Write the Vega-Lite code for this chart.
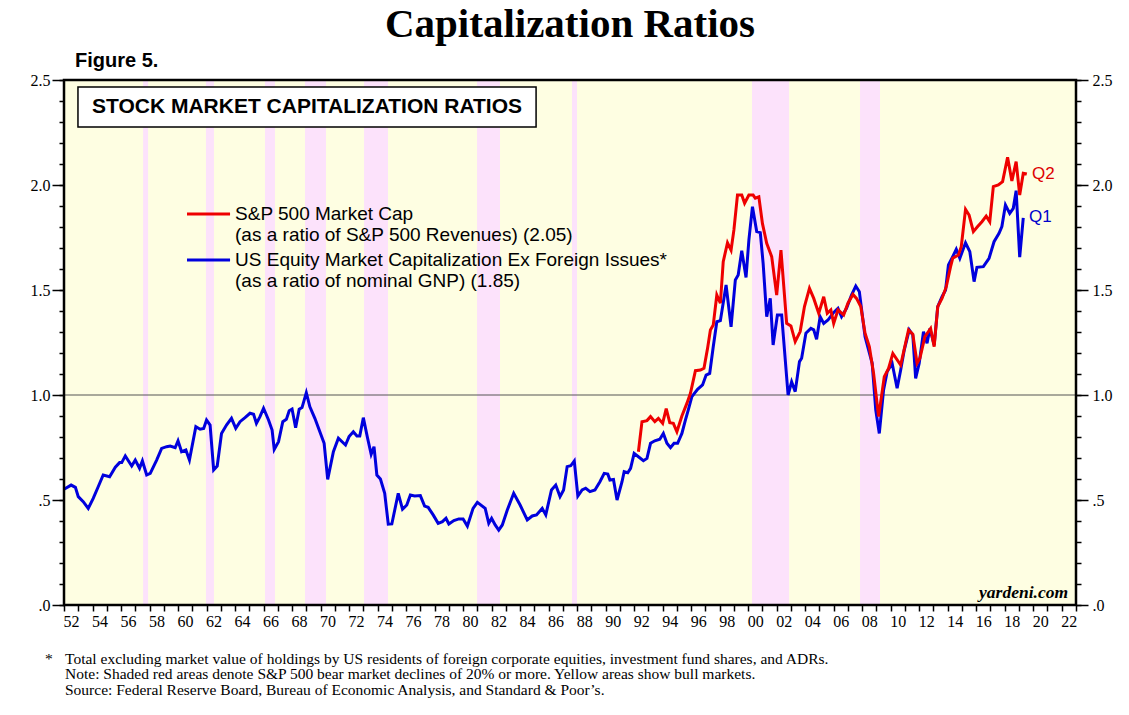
{
  "$schema": "https://vega.github.io/schema/vega-lite/v6.json",
  "width": 1012,
  "height": 525,
  "autosize": "none",
  "padding": {"left": 64, "top": 80, "right": 53, "bottom": 110},
  "background": "#ffffff",
  "config": {
    "view": {"fill": "#fefee2", "stroke": null},
    "text": {"font": "Liberation Sans", "color": "#000000"}
  },
  "datasets": {
    "bears": [
      {"s": 1957.55, "e": 1957.9},
      {"s": 1961.96, "e": 1962.52},
      {"s": 1966.1, "e": 1966.8},
      {"s": 1968.91, "e": 1970.38},
      {"s": 1973.05, "e": 1974.73},
      {"s": 1980.98, "e": 1982.59},
      {"s": 1987.64, "e": 1987.99},
      {"s": 2000.27, "e": 2002.87},
      {"s": 2007.85, "e": 2009.25}
    ],
    "blue": [
      {"t": 1952.0, "v": 0.551}, {"t": 1952.5, "v": 0.571}, {"t": 1952.8, "v": 0.56}, {"t": 1953.0, "v": 0.516},
      {"t": 1953.35, "v": 0.492}, {"t": 1953.7, "v": 0.46}, {"t": 1954.05, "v": 0.508}, {"t": 1954.4, "v": 0.563},
      {"t": 1954.75, "v": 0.619}, {"t": 1955.2, "v": 0.611}, {"t": 1955.6, "v": 0.656}, {"t": 1955.9, "v": 0.678},
      {"t": 1956.05, "v": 0.678}, {"t": 1956.3, "v": 0.71}, {"t": 1956.75, "v": 0.662}, {"t": 1957.0, "v": 0.69},
      {"t": 1957.3, "v": 0.651}, {"t": 1957.5, "v": 0.686}, {"t": 1957.8, "v": 0.619}, {"t": 1958.05, "v": 0.627},
      {"t": 1958.5, "v": 0.69}, {"t": 1958.85, "v": 0.746}, {"t": 1959.2, "v": 0.754}, {"t": 1959.45, "v": 0.757},
      {"t": 1959.8, "v": 0.749}, {"t": 1960.0, "v": 0.782}, {"t": 1960.25, "v": 0.73}, {"t": 1960.55, "v": 0.738},
      {"t": 1960.8, "v": 0.69}, {"t": 1961.25, "v": 0.849}, {"t": 1961.55, "v": 0.837}, {"t": 1961.8, "v": 0.841},
      {"t": 1962.0, "v": 0.881}, {"t": 1962.25, "v": 0.857}, {"t": 1962.5, "v": 0.643}, {"t": 1962.75, "v": 0.662},
      {"t": 1963.05, "v": 0.817}, {"t": 1963.4, "v": 0.857}, {"t": 1963.75, "v": 0.889}, {"t": 1964.05, "v": 0.841},
      {"t": 1964.35, "v": 0.873}, {"t": 1964.7, "v": 0.892}, {"t": 1965.05, "v": 0.913}, {"t": 1965.3, "v": 0.908},
      {"t": 1965.5, "v": 0.865}, {"t": 1965.75, "v": 0.897}, {"t": 1966.0, "v": 0.937}, {"t": 1966.35, "v": 0.881},
      {"t": 1966.6, "v": 0.833}, {"t": 1966.75, "v": 0.741}, {"t": 1967.05, "v": 0.778}, {"t": 1967.35, "v": 0.873},
      {"t": 1967.6, "v": 0.884}, {"t": 1967.8, "v": 0.925}, {"t": 1968.0, "v": 0.933}, {"t": 1968.25, "v": 0.844},
      {"t": 1968.5, "v": 0.932}, {"t": 1968.7, "v": 0.94}, {"t": 1969.0, "v": 1.011}, {"t": 1969.25, "v": 0.944},
      {"t": 1969.6, "v": 0.889}, {"t": 1969.95, "v": 0.825}, {"t": 1970.25, "v": 0.77}, {"t": 1970.5, "v": 0.598},
      {"t": 1970.9, "v": 0.73}, {"t": 1971.25, "v": 0.794}, {"t": 1971.75, "v": 0.762}, {"t": 1972.0, "v": 0.802},
      {"t": 1972.3, "v": 0.825}, {"t": 1972.55, "v": 0.805}, {"t": 1972.75, "v": 0.805}, {"t": 1973.0, "v": 0.892},
      {"t": 1973.3, "v": 0.794}, {"t": 1973.55, "v": 0.718}, {"t": 1973.75, "v": 0.754}, {"t": 1973.95, "v": 0.619},
      {"t": 1974.2, "v": 0.6}, {"t": 1974.5, "v": 0.532}, {"t": 1974.75, "v": 0.385}, {"t": 1975.0, "v": 0.386},
      {"t": 1975.45, "v": 0.532}, {"t": 1975.75, "v": 0.456}, {"t": 1976.05, "v": 0.476}, {"t": 1976.3, "v": 0.524},
      {"t": 1976.6, "v": 0.519}, {"t": 1977.0, "v": 0.521}, {"t": 1977.3, "v": 0.471}, {"t": 1977.55, "v": 0.465},
      {"t": 1977.9, "v": 0.429}, {"t": 1978.25, "v": 0.389}, {"t": 1978.55, "v": 0.397}, {"t": 1978.8, "v": 0.413},
      {"t": 1979.0, "v": 0.386}, {"t": 1979.35, "v": 0.402}, {"t": 1979.7, "v": 0.41}, {"t": 1980.0, "v": 0.41},
      {"t": 1980.3, "v": 0.376}, {"t": 1980.7, "v": 0.46}, {"t": 1981.0, "v": 0.489}, {"t": 1981.55, "v": 0.46},
      {"t": 1981.8, "v": 0.389}, {"t": 1982.0, "v": 0.413}, {"t": 1982.25, "v": 0.381}, {"t": 1982.5, "v": 0.357},
      {"t": 1982.75, "v": 0.381}, {"t": 1983.1, "v": 0.452}, {"t": 1983.55, "v": 0.532}, {"t": 1984.0, "v": 0.476},
      {"t": 1984.5, "v": 0.405}, {"t": 1984.85, "v": 0.424}, {"t": 1985.15, "v": 0.429}, {"t": 1985.55, "v": 0.46},
      {"t": 1985.8, "v": 0.429}, {"t": 1986.2, "v": 0.548}, {"t": 1986.5, "v": 0.571}, {"t": 1986.8, "v": 0.516},
      {"t": 1987.05, "v": 0.548}, {"t": 1987.3, "v": 0.659}, {"t": 1987.55, "v": 0.663}, {"t": 1987.8, "v": 0.686},
      {"t": 1988.05, "v": 0.519}, {"t": 1988.35, "v": 0.548}, {"t": 1988.6, "v": 0.556}, {"t": 1988.9, "v": 0.54},
      {"t": 1989.25, "v": 0.548}, {"t": 1989.6, "v": 0.587}, {"t": 1989.9, "v": 0.627}, {"t": 1990.15, "v": 0.624},
      {"t": 1990.3, "v": 0.595}, {"t": 1990.55, "v": 0.598}, {"t": 1990.8, "v": 0.5}, {"t": 1991.15, "v": 0.587},
      {"t": 1991.3, "v": 0.635}, {"t": 1991.55, "v": 0.63}, {"t": 1991.75, "v": 0.651}, {"t": 1992.0, "v": 0.722},
      {"t": 1992.3, "v": 0.706}, {"t": 1992.65, "v": 0.687}, {"t": 1992.9, "v": 0.698}, {"t": 1993.15, "v": 0.77},
      {"t": 1993.45, "v": 0.782}, {"t": 1993.8, "v": 0.789}, {"t": 1994.05, "v": 0.817}, {"t": 1994.3, "v": 0.77},
      {"t": 1994.55, "v": 0.749}, {"t": 1994.8, "v": 0.77}, {"t": 1995.05, "v": 0.77}, {"t": 1995.35, "v": 0.817},
      {"t": 1995.6, "v": 0.881}, {"t": 1995.8, "v": 0.929}, {"t": 1996.05, "v": 0.992}, {"t": 1996.45, "v": 1.027},
      {"t": 1996.8, "v": 1.048}, {"t": 1997.05, "v": 1.095}, {"t": 1997.3, "v": 1.103}, {"t": 1997.55, "v": 1.23},
      {"t": 1997.8, "v": 1.349}, {"t": 1998.05, "v": 1.354}, {"t": 1998.45, "v": 1.524}, {"t": 1998.8, "v": 1.325},
      {"t": 1999.1, "v": 1.548}, {"t": 1999.3, "v": 1.571}, {"t": 1999.55, "v": 1.687}, {"t": 1999.85, "v": 1.56},
      {"t": 2000.05, "v": 1.738}, {"t": 2000.3, "v": 1.897}, {"t": 2000.6, "v": 1.778}, {"t": 2000.85, "v": 1.773},
      {"t": 2001.05, "v": 1.627}, {"t": 2001.3, "v": 1.373}, {"t": 2001.55, "v": 1.46}, {"t": 2001.75, "v": 1.238},
      {"t": 2002.05, "v": 1.381}, {"t": 2002.35, "v": 1.381}, {"t": 2002.8, "v": 1.0}, {"t": 2003.05, "v": 1.063},
      {"t": 2003.3, "v": 1.016}, {"t": 2003.6, "v": 1.159}, {"t": 2003.75, "v": 1.175}, {"t": 2004.05, "v": 1.294},
      {"t": 2004.4, "v": 1.317}, {"t": 2004.6, "v": 1.31}, {"t": 2004.8, "v": 1.265}, {"t": 2005.05, "v": 1.373},
      {"t": 2005.3, "v": 1.341}, {"t": 2005.6, "v": 1.357}, {"t": 2005.95, "v": 1.389}, {"t": 2006.3, "v": 1.413},
      {"t": 2006.55, "v": 1.373}, {"t": 2006.9, "v": 1.413}, {"t": 2007.25, "v": 1.476}, {"t": 2007.55, "v": 1.519},
      {"t": 2007.8, "v": 1.492}, {"t": 2008.2, "v": 1.278}, {"t": 2008.7, "v": 1.151}, {"t": 2008.95, "v": 0.929},
      {"t": 2009.2, "v": 0.817}, {"t": 2009.5, "v": 1.024}, {"t": 2009.75, "v": 1.111}, {"t": 2010.1, "v": 1.151},
      {"t": 2010.45, "v": 1.032}, {"t": 2010.7, "v": 1.119}, {"t": 2010.95, "v": 1.214}, {"t": 2011.3, "v": 1.31},
      {"t": 2011.55, "v": 1.286}, {"t": 2011.75, "v": 1.079}, {"t": 2012.0, "v": 1.151}, {"t": 2012.3, "v": 1.302},
      {"t": 2012.55, "v": 1.246}, {"t": 2012.75, "v": 1.317}, {"t": 2013.05, "v": 1.238}, {"t": 2013.3, "v": 1.421},
      {"t": 2013.6, "v": 1.468}, {"t": 2013.85, "v": 1.5}, {"t": 2014.05, "v": 1.619}, {"t": 2014.35, "v": 1.659},
      {"t": 2014.6, "v": 1.694}, {"t": 2014.85, "v": 1.651}, {"t": 2015.25, "v": 1.725}, {"t": 2015.55, "v": 1.683},
      {"t": 2015.85, "v": 1.54}, {"t": 2016.05, "v": 1.608}, {"t": 2016.5, "v": 1.611}, {"t": 2016.9, "v": 1.651},
      {"t": 2017.25, "v": 1.73}, {"t": 2017.6, "v": 1.77}, {"t": 2017.8, "v": 1.802}, {"t": 2018.05, "v": 1.905},
      {"t": 2018.35, "v": 1.865}, {"t": 2018.6, "v": 1.889}, {"t": 2018.8, "v": 1.973}, {"t": 2019.05, "v": 1.656},
      {"t": 2019.3, "v": 1.844}
    ],
    "red": [
      {"t": 1992.3, "v": 0.73}, {"t": 1992.55, "v": 0.873}, {"t": 1992.9, "v": 0.878}, {"t": 1993.15, "v": 0.897},
      {"t": 1993.45, "v": 0.873}, {"t": 1993.7, "v": 0.889}, {"t": 1994.0, "v": 0.865}, {"t": 1994.25, "v": 0.935},
      {"t": 1994.5, "v": 0.868}, {"t": 1994.75, "v": 0.865}, {"t": 1995.0, "v": 0.825}, {"t": 1995.35, "v": 0.9},
      {"t": 1995.7, "v": 0.96}, {"t": 1995.95, "v": 1.008}, {"t": 1996.3, "v": 1.116}, {"t": 1996.65, "v": 1.119},
      {"t": 1996.9, "v": 1.127}, {"t": 1997.15, "v": 1.222}, {"t": 1997.35, "v": 1.31}, {"t": 1997.55, "v": 1.333},
      {"t": 1997.8, "v": 1.476}, {"t": 1998.05, "v": 1.437}, {"t": 1998.25, "v": 1.635}, {"t": 1998.55, "v": 1.725},
      {"t": 1998.8, "v": 1.69}, {"t": 1999.0, "v": 1.786}, {"t": 1999.25, "v": 1.952}, {"t": 1999.55, "v": 1.952},
      {"t": 1999.75, "v": 1.913}, {"t": 2000.05, "v": 1.952}, {"t": 2000.35, "v": 1.952}, {"t": 2000.5, "v": 1.937},
      {"t": 2000.75, "v": 1.944}, {"t": 2001.0, "v": 1.817}, {"t": 2001.3, "v": 1.722}, {"t": 2001.65, "v": 1.659},
      {"t": 2002.0, "v": 1.476}, {"t": 2002.3, "v": 1.69}, {"t": 2002.7, "v": 1.341}, {"t": 2003.0, "v": 1.329},
      {"t": 2003.3, "v": 1.254}, {"t": 2003.65, "v": 1.302}, {"t": 2003.95, "v": 1.421}, {"t": 2004.3, "v": 1.508},
      {"t": 2004.6, "v": 1.46}, {"t": 2004.95, "v": 1.389}, {"t": 2005.3, "v": 1.468}, {"t": 2005.55, "v": 1.389},
      {"t": 2005.8, "v": 1.405}, {"t": 2006.0, "v": 1.341}, {"t": 2006.3, "v": 1.405}, {"t": 2006.7, "v": 1.381},
      {"t": 2007.0, "v": 1.437}, {"t": 2007.35, "v": 1.479}, {"t": 2007.6, "v": 1.46}, {"t": 2007.9, "v": 1.421},
      {"t": 2008.2, "v": 1.294}, {"t": 2008.5, "v": 1.23}, {"t": 2008.8, "v": 1.103}, {"t": 2009.15, "v": 0.897},
      {"t": 2009.55, "v": 1.087}, {"t": 2009.85, "v": 1.127}, {"t": 2010.15, "v": 1.198}, {"t": 2010.7, "v": 1.143},
      {"t": 2011.25, "v": 1.31}, {"t": 2011.55, "v": 1.29}, {"t": 2011.85, "v": 1.151}, {"t": 2012.05, "v": 1.175},
      {"t": 2012.4, "v": 1.278}, {"t": 2012.8, "v": 1.317}, {"t": 2013.05, "v": 1.23}, {"t": 2013.3, "v": 1.421},
      {"t": 2013.6, "v": 1.46}, {"t": 2013.9, "v": 1.516}, {"t": 2014.2, "v": 1.611}, {"t": 2014.35, "v": 1.651},
      {"t": 2014.75, "v": 1.667}, {"t": 2014.95, "v": 1.706}, {"t": 2015.25, "v": 1.884}, {"t": 2015.5, "v": 1.857},
      {"t": 2015.8, "v": 1.778}, {"t": 2016.1, "v": 1.802}, {"t": 2016.4, "v": 1.825}, {"t": 2016.7, "v": 1.852},
      {"t": 2016.95, "v": 1.825}, {"t": 2017.2, "v": 1.992}, {"t": 2017.55, "v": 2.0}, {"t": 2017.85, "v": 2.016},
      {"t": 2018.2, "v": 2.132}, {"t": 2018.5, "v": 2.019}, {"t": 2018.8, "v": 2.111}, {"t": 2019.05, "v": 1.952},
      {"t": 2019.3, "v": 2.056}, {"t": 2019.55, "v": 2.052}
    ]
  },
  "layer": [
    {
      "data": {"name": "bears"},
      "mark": {"type": "rect", "color": "#fce2fb"},
      "encoding": {
        "x": {
          "field": "s", "type": "quantitative",
          "scale": {"domain": [1952, 2023], "nice": false, "zero": false},
          "axis": {
            "orient": "bottom", "title": null, "grid": false, "domain": false,
            "values": [1952,1953,1954,1955,1956,1957,1958,1959,1960,1961,1962,1963,1964,1965,1966,1967,1968,1969,1970,1971,1972,1973,1974,1975,1976,1977,1978,1979,1980,1981,1982,1983,1984,1985,1986,1987,1988,1989,1990,1991,1992,1993,1994,1995,1996,1997,1998,1999,2000,2001,2002,2003,2004,2005,2006,2007,2008,2009,2010,2011,2012,2013,2014,2015,2016,2017,2018,2019,2020,2021,2022,2023],
            "labelExpr": "datum.value % 2 == 0 && datum.value < 2023 ? ((datum.value % 100) < 10 ? '0' : '') + (datum.value % 100) : ''",
            "labelOffset": 7, "tickSize": 6, "tickWidth": 1.5, "tickColor": "#000000",
            "labelFont": "Liberation Serif", "labelFontSize": 16, "labelColor": "#000000",
            "labelPadding": 2, "labelFlush": false, "labelOverlap": false, "labelBound": false
          }
        },
        "x2": {"field": "e"},
        "y": {
          "datum": 0, "type": "quantitative",
          "scale": {"domain": [0, 2.5], "nice": false, "zero": false},
          "axis": {
            "orient": "left", "title": null, "grid": false, "domain": false,
            "values": [0, 0.5, 1, 1.5, 2, 2.5],
            "labelExpr": "datum.value == 0 ? '.0' : datum.value == 0.5 ? '.5' : format(datum.value, '.1f')",
            "tickSize": 12, "tickWidth": 1.5, "tickColor": "#000000",
            "labelFont": "Liberation Serif", "labelFontSize": 16, "labelColor": "#000000",
            "labelPadding": 2, "labelFlush": false, "labelOverlap": false, "labelBound": false
          }
        },
        "y2": {"datum": 2.5}
      }
    },
    {
      "data": {"values": [{}]},
      "mark": {"type": "rule", "color": "#555555", "strokeWidth": 1},
      "encoding": {
        "y": {
          "datum": 1, "type": "quantitative",
          "scale": {"domain": [0, 2.5], "nice": false, "zero": false},
          "axis": {
            "orient": "left", "title": null, "grid": false, "domain": false, "labels": false,
            "values": [0,0.1,0.2,0.3,0.4,0.5,0.6,0.7,0.8,0.9,1,1.1,1.2,1.3,1.4,1.5,1.6,1.7,1.8,1.9,2,2.1,2.2,2.3,2.4,2.5],
            "tickSize": 5, "tickWidth": 1.5, "tickColor": "#000000"
          }
        }
      }
    },
    {
      "data": {"name": "blue"},
      "mark": {"type": "line", "color": "#0000dd", "strokeWidth": 3},
      "encoding": {
        "x": {"field": "t", "type": "quantitative", "axis": null, "scale": {"domain": [1952, 2023], "nice": false, "zero": false}},
        "y": {
          "field": "v", "type": "quantitative",
          "scale": {"domain": [0, 2.5], "nice": false, "zero": false},
          "axis": {
            "orient": "right", "title": null, "grid": false, "domain": false,
            "values": [0, 0.5, 1, 1.5, 2, 2.5],
            "labelExpr": "datum.value == 0 ? '.0' : datum.value == 0.5 ? '.5' : format(datum.value, '.1f')",
            "tickSize": 12, "tickWidth": 1.5, "tickColor": "#000000",
            "labelFont": "Liberation Serif", "labelFontSize": 16, "labelColor": "#000000",
            "labelPadding": 4, "labelFlush": false, "labelOverlap": false, "labelBound": false
          }
        }
      }
    },
    {
      "data": {"name": "red"},
      "mark": {"type": "line", "color": "#ee0000", "strokeWidth": 3},
      "encoding": {
        "x": {"field": "t", "type": "quantitative", "axis": null, "scale": {"domain": [1952, 2023], "nice": false, "zero": false}},
        "y": {
          "field": "v", "type": "quantitative",
          "scale": {"domain": [0, 2.5], "nice": false, "zero": false},
          "axis": {
            "orient": "right", "title": null, "grid": false, "domain": false, "labels": false,
            "values": [0,0.1,0.2,0.3,0.4,0.5,0.6,0.7,0.8,0.9,1,1.1,1.2,1.3,1.4,1.5,1.6,1.7,1.8,1.9,2,2.1,2.2,2.3,2.4,2.5],
            "tickSize": 5, "tickWidth": 1.5, "tickColor": "#000000"
          }
        }
      }
    },
    {
      "data": {"values": [{}]},
      "mark": {"type": "rect", "fill": "#ffffff", "stroke": "#000000", "strokeWidth": 1.5},
      "encoding": {
        "x": {"datum": 1952.98, "type": "quantitative", "axis": null},
        "x2": {"datum": 1985.12},
        "y": {"datum": 2.4667, "type": "quantitative", "axis": null},
        "y2": {"datum": 2.276}
      }
    },
    {
      "data": {"values": [{}]},
      "mark": {"type": "text", "text": "STOCK MARKET CAPITALIZATION RATIOS", "font": "Liberation Sans", "fontWeight": "bold", "fontSize": 21, "align": "left", "baseline": "middle"},
      "encoding": {
        "x": {"datum": 1953.96, "type": "quantitative", "axis": null},
        "y": {"datum": 2.371, "type": "quantitative", "axis": null}
      }
    },
    {
      "data": {"values": [{}]},
      "mark": {"type": "rule", "color": "#ee0000", "strokeWidth": 3},
      "encoding": {
        "x": {"datum": 1960.63, "type": "quantitative", "axis": null},
        "x2": {"datum": 1963.65},
        "y": {"datum": 1.862, "type": "quantitative", "axis": null}
      }
    },
    {
      "data": {"values": [{}]},
      "mark": {"type": "rule", "color": "#0000dd", "strokeWidth": 3},
      "encoding": {
        "x": {"datum": 1960.63, "type": "quantitative", "axis": null},
        "x2": {"datum": 1963.65},
        "y": {"datum": 1.643, "type": "quantitative", "axis": null}
      }
    },
    {
      "data": {"values": [{}]},
      "mark": {"type": "text", "text": "S&P 500 Market Cap", "fontSize": 19, "align": "left", "baseline": "middle"},
      "encoding": {
        "x": {"datum": 1964.0, "type": "quantitative", "axis": null},
        "y": {"datum": 1.862, "type": "quantitative", "axis": null}
      }
    },
    {
      "data": {"values": [{}]},
      "mark": {"type": "text", "text": "(as a ratio of S&P 500 Revenues) (2.05)", "fontSize": 19, "align": "left", "baseline": "middle"},
      "encoding": {
        "x": {"datum": 1964.0, "type": "quantitative", "axis": null},
        "y": {"datum": 1.762, "type": "quantitative", "axis": null}
      }
    },
    {
      "data": {"values": [{}]},
      "mark": {"type": "text", "text": "US Equity Market Capitalization Ex Foreign Issues*", "fontSize": 19, "align": "left", "baseline": "middle"},
      "encoding": {
        "x": {"datum": 1964.0, "type": "quantitative", "axis": null},
        "y": {"datum": 1.643, "type": "quantitative", "axis": null}
      }
    },
    {
      "data": {"values": [{}]},
      "mark": {"type": "text", "text": "(as a ratio of nominal GNP) (1.85)", "fontSize": 19, "align": "left", "baseline": "middle"},
      "encoding": {
        "x": {"datum": 1964.0, "type": "quantitative", "axis": null},
        "y": {"datum": 1.543, "type": "quantitative", "axis": null}
      }
    },
    {
      "data": {"values": [{}]},
      "mark": {"type": "text", "text": "Q2", "fontSize": 17, "color": "#dd0000", "align": "left", "baseline": "middle"},
      "encoding": {
        "x": {"datum": 2019.92, "type": "quantitative", "axis": null},
        "y": {"datum": 2.052, "type": "quantitative", "axis": null}
      }
    },
    {
      "data": {"values": [{}]},
      "mark": {"type": "text", "text": "Q1", "fontSize": 17, "color": "#0000cc", "align": "left", "baseline": "middle"},
      "encoding": {
        "x": {"datum": 2019.7, "type": "quantitative", "axis": null},
        "y": {"datum": 1.848, "type": "quantitative", "axis": null}
      }
    },
    {
      "data": {"values": [{}]},
      "mark": {"type": "text", "text": "yardeni.com", "font": "Liberation Serif", "fontWeight": "bold", "fontStyle": "italic", "fontSize": 17.5, "align": "right", "baseline": "alphabetic"},
      "encoding": {
        "x": {"datum": 2022.44, "type": "quantitative", "axis": null},
        "y": {"datum": 0.033, "type": "quantitative", "axis": null}
      }
    },
    {
      "data": {"values": [{}]},
      "mark": {"type": "rect", "fill": null, "fillOpacity": 0, "stroke": "#000000", "strokeWidth": 2.5},
      "encoding": {
        "x": {"datum": 1952, "type": "quantitative", "axis": null},
        "x2": {"datum": 2023},
        "y": {"datum": 0, "type": "quantitative", "axis": null},
        "y2": {"datum": 2.5}
      }
    },
    {
      "data": {"values": [{}]},
      "mark": {"type": "text", "text": "Capitalization Ratios", "font": "Liberation Serif", "fontWeight": "bold", "fontSize": 41, "align": "center", "baseline": "alphabetic"},
      "encoding": {
        "x": {"datum": 1987.5, "type": "quantitative", "axis": null},
        "y": {"datum": 2.707, "type": "quantitative", "axis": null}
      }
    },
    {
      "data": {"values": [{}]},
      "mark": {"type": "text", "text": "Figure 5.", "fontWeight": "bold", "fontSize": 20, "align": "left", "baseline": "alphabetic"},
      "encoding": {
        "x": {"datum": 1952.77, "type": "quantitative", "axis": null},
        "y": {"datum": 2.562, "type": "quantitative", "axis": null}
      }
    },
    {
      "data": {"values": [{}]},
      "mark": {"type": "text", "text": "*", "font": "Liberation Serif", "fontSize": 15.5, "align": "left", "baseline": "middle"},
      "encoding": {
        "x": {"datum": 1950.67, "type": "quantitative", "axis": null},
        "y": {"datum": -0.2548, "type": "quantitative", "axis": null}
      }
    },
    {
      "data": {"values": [{}]},
      "mark": {"type": "text", "text": "Total excluding market value of holdings by US residents of foreign corporate equities, investment fund shares, and ADRs.", "font": "Liberation Serif", "fontSize": 15.5, "align": "left", "baseline": "middle"},
      "encoding": {
        "x": {"datum": 1952.07, "type": "quantitative", "axis": null},
        "y": {"datum": -0.2548, "type": "quantitative", "axis": null}
      }
    },
    {
      "data": {"values": [{}]},
      "mark": {"type": "text", "text": "Note: Shaded red areas denote S&P 500 bear market declines of 20% or more. Yellow areas show bull markets.", "font": "Liberation Serif", "fontSize": 15.5, "align": "left", "baseline": "middle"},
      "encoding": {
        "x": {"datum": 1952.07, "type": "quantitative", "axis": null},
        "y": {"datum": -0.329, "type": "quantitative", "axis": null}
      }
    },
    {
      "data": {"values": [{}]},
      "mark": {"type": "text", "text": "Source: Federal Reserve Board, Bureau of Economic Analysis, and Standard & Poor’s.", "font": "Liberation Serif", "fontSize": 15.5, "align": "left", "baseline": "middle"},
      "encoding": {
        "x": {"datum": 1952.07, "type": "quantitative", "axis": null},
        "y": {"datum": -0.4033, "type": "quantitative", "axis": null}
      }
    }
  ],
  "resolve": {"axis": {"y": "independent", "x": "independent"}}
}
